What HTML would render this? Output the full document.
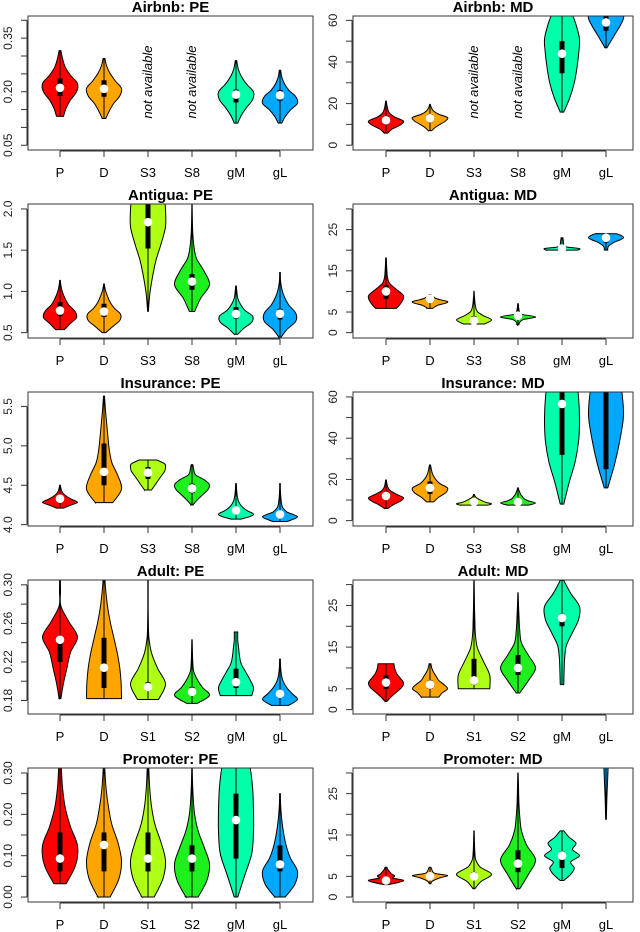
<!DOCTYPE html>
<html><head><meta charset="utf-8"><style>
html,body{margin:0;padding:0;background:#fff;}
svg{display:block;font-family:"Liberation Sans",Arial,sans-serif;}
</style></head><body>
<svg id="chart" width="640" height="932" viewBox="0 0 640 932" xmlns="http://www.w3.org/2000/svg"></svg>
<script>
const panelTitles = ["Airbnb: PE","Airbnb: MD","Antigua: PE","Antigua: MD","Insurance: PE","Insurance: MD","Adult: PE","Adult: MD","Promoter: PE","Promoter: MD"];
const catsA = ["P","D","S3","S8","gM","gL"];
const catsB = ["P","D","S1","S2","gM","gL"];
const panelDomains = [[0.0368,0.412],[-2.3,62.1],[0.435,2.06],[-1.3,31.2],[3.983,5.683],[-2.6,62.4],[0.166,0.305],[-1.05,31.1],[-0.012,0.312],[-1.2,31.2]];
const panelTicks = [
 [0.05,0.10,0.15,0.20,0.25,0.30,0.35,0.40],[0,10,20,30,40,50,60],[0.5,1.0,1.5,2.0],[0,5,10,15,20,25,30],
 [4.0,4.5,5.0,5.5],[0,10,20,30,40,50,60],[0.18,0.20,0.22,0.24,0.26,0.28,0.30],[0,5,10,15,20,25,30],
 [0,0.05,0.10,0.15,0.20,0.25,0.30],[0,5,10,15,20,25,30]];
const panelTickLabels = [
 ["0.05","","","0.20","","","0.35",""],["0","","20","","40","","60"],["0.5","1.0","1.5","2.0"],["0","5","","15","","25",""],
 ["4.0","4.5","5.0","5.5"],["0","","20","","40","","60"],["0.18","","0.22","","0.26","","0.30"],["0","5","","15","","25",""],
 ["0.00","","0.10","","0.20","","0.30"],["0","5","","15","","25",""]];
// stats: [min, q1, median, q3, max]
const violinStats = [
 [[0.131,0.188,0.211,0.237,0.315],[0.125,0.186,0.208,0.232,0.293],null,null,[0.112,0.17,0.192,0.206,0.287],[0.112,0.175,0.19,0.205,0.26]],
 [[5.8,10,12,14,21.2],[7,11,13,15,19.6],null,null,[15.9,34.6,44,50,72],[46.8,55,59,65,75]],
 [[0.537,0.70,0.768,0.87,1.134],[0.5,0.69,0.756,0.85,1.09],[0.756,1.52,1.84,2.1,2.4],[0.756,1.02,1.12,1.21,2.05],[0.48,0.67,0.727,0.81,1.065],[0.44,0.66,0.73,0.79,1.23]],
 [[5.9,8.2,10,11.5,18.1],[5.9,7.5,8.2,8.6,9.2],[2.1,2.5,2.9,4,10],[1.9,3.6,4.1,4.6,7],[20,20.2,20.4,20.7,23],[20,21.8,23,23.3,24]],
 [[4.21,4.29,4.33,4.38,4.5],[4.28,4.5,4.67,5.03,5.63],[4.44,4.58,4.66,4.73,4.82],[4.25,4.4,4.46,4.52,4.76],[4.07,4.15,4.18,4.22,4.52],[4.04,4.1,4.13,4.16,4.52]],
 [[5.9,10,12,14,19.7],[9.1,13,15.9,19,27],[7.5,8.5,9.1,10,12.7],[7.5,8.5,9.1,10.5,15.9],[8,31.9,56.6,70,90],[15.9,25,75,95,110]],
 [[0.182,0.22,0.243,0.247,0.31],[0.182,0.193,0.214,0.245,0.31],[0.181,0.19,0.194,0.199,0.31],[0.177,0.186,0.189,0.194,0.243],[0.185,0.193,0.199,0.213,0.251],[0.175,0.183,0.187,0.191,0.223]],
 [[1.95,5,6.5,8.2,11],[3,5,6,7,11],[5,6,7,12.2,31],[4,8.3,10,13.1,28],[6,20,22,23,31],null],
 [[0.032,0.062,0.093,0.156,0.4],[0,0.062,0.126,0.156,0.35],[0,0.062,0.093,0.156,0.35],[0,0.062,0.093,0.125,0.32],[0,0.093,0.186,0.25,0.42],[0,0.062,0.079,0.125,0.25]],
 [[3,3.6,4,4.5,7.2],[3.2,4.6,5,5.3,7.2],[2,4.6,5,6,16],[2,6,8.1,11.3,30],[4,7,10,11,16],[18.8,40,50,55,60]]
];
// relative half-widths sampled evenly from min (first) to max (last)
const violinProfiles = [
 [[0.2,0.35,0.6,0.95,1.0,0.6,0.3,0.15,0.05],[0.1,0.3,0.55,0.9,1.0,0.65,0.35,0.15,0.05],null,null,[0.1,0.3,0.6,0.95,1.0,0.6,0.3,0.12,0.04],[0.1,0.3,0.6,1.0,0.9,0.5,0.25,0.1,0.04]],
 [[0.1,0.35,0.8,1.0,0.5,0.2,0.1,0.05,0.02],[0.1,0.3,0.6,0.9,1.0,0.5,0.2,0.08,0.02],null,null,[0.1,0.45,0.7,0.85,0.95,1.0,0.8,0.5,0.2],[0.05,0.3,0.55,0.8,1.0,1.0,0.9,0.6,0.3]],
 [[0.25,0.6,0.95,0.85,0.5,0.3,0.15,0.06,0.02],[0.1,0.5,0.9,0.95,0.6,0.35,0.2,0.08,0.02],[0.02,0.1,0.25,0.45,0.75,1.0,1.0,0.9,0.7],[0.15,0.5,1.0,0.7,0.25,0.1,0.04,0.02,0.01],[0.1,0.45,0.9,0.95,0.5,0.25,0.1,0.05,0.02],[0.05,0.4,0.9,0.9,0.5,0.25,0.1,0.03,0.02]],
 [[0.6,0.9,1.0,0.6,0.2,0.08,0.05,0.03,0.02],[0.15,0.3,0.5,0.9,1.0,0.6,0.3,0.15,0.05],[0.6,1.0,0.55,0.2,0.1,0.06,0.04,0.02,0.01],[0.05,0.1,0.3,1.0,0.2,0.08,0.05,0.03,0.02],[0.9,1.0,0.3,0.1,0.1,0.08,0.08,0.06,0.05],[0.1,0.1,0.15,0.3,0.5,0.8,1.0,0.9,0.6]],
 [[0.2,0.6,1.0,0.7,0.4,0.2,0.1,0.05,0.02],[0.5,1.0,0.8,0.45,0.3,0.22,0.15,0.08,0.03],[0.2,0.35,0.5,0.65,0.8,0.95,1.0,0.95,0.5],[0.05,0.3,0.6,0.9,1.0,0.7,0.2,0.1,0.05],[0.3,1.0,0.6,0.3,0.15,0.08,0.05,0.03,0.02],[0.4,1.0,0.4,0.15,0.08,0.05,0.03,0.02,0.02]],
 [[0.1,0.4,0.8,1.0,0.6,0.25,0.1,0.05,0.02],[0.2,0.5,0.9,1.0,0.55,0.3,0.15,0.08,0.03],[0.8,1.0,0.7,0.5,0.35,0.2,0.1,0.05,0.02],[0.6,1.0,0.6,0.35,0.25,0.15,0.1,0.05,0.02],[0.1,0.4,0.75,0.95,1.0,0.95,0.8,0.5,0.2],[0.1,0.5,0.8,1.0,0.9,0.7,0.5,0.3,0.1]],
 [[0.05,0.2,0.4,0.6,1.0,0.5,0.05,0.03,0.02],[1.0,0.98,0.9,0.75,0.55,0.35,0.2,0.1,0.03],[0.6,1.0,0.55,0.2,0.05,0.02,0.01,0.01,0.01],[0.3,1.0,0.6,0.3,0.1,0.05,0.03,0.02,0.01],[0.9,1.0,0.8,0.55,0.3,0.2,0.15,0.1,0.1],[0.5,1.0,0.7,0.4,0.2,0.1,0.05,0.03,0.02]],
 [[0.05,0.3,0.6,0.9,1.0,0.8,0.6,0.5,0.45],[0.5,0.7,1.0,0.8,0.5,0.35,0.2,0.1,0.05],[0.9,0.9,0.55,0.2,0.08,0.05,0.03,0.02,0.01],[0.1,0.6,1.0,0.6,0.2,0.1,0.06,0.03,0.01],[0.1,0.12,0.15,0.25,0.6,0.95,1.0,0.5,0.1],null],
 [[0.35,0.9,1.0,0.6,0.3,0.15,0.08,0.04,0.02],[0.35,0.85,1.0,0.8,0.45,0.25,0.12,0.05,0.02],[0.35,0.85,1.0,0.75,0.4,0.2,0.1,0.05,0.02],[0.35,0.85,1.0,0.7,0.35,0.15,0.07,0.03,0.01],[0.1,0.5,0.9,1.0,1.0,0.95,0.8,0.5,0.2],[0.3,0.85,1.0,0.6,0.35,0.2,0.1,0.04,0.02]],
 [[0.1,0.7,1.0,0.4,0.5,0.3,0.2,0.1,0.05],[0.05,0.1,0.3,0.6,1.0,0.3,0.15,0.1,0.05],[0.05,0.4,1.0,0.35,0.1,0.05,0.03,0.02,0.01],[0.1,0.6,1.0,0.5,0.2,0.1,0.05,0.03,0.01],[0.1,0.5,0.7,0.5,1.0,0.6,0.8,0.4,0.1],[0.02,0.05,0.1,0.15,0.2,0.2,0.15,0.1,0.05]]
];
const seriesColors = ["#FF0000","#FFA500","#AEFF14","#1EF01E","#00FFAA","#00A8FF"];

const NS = "http://www.w3.org/2000/svg";
const svg = document.getElementById("chart");
function mk(tag, attrs, parent){ const e=document.createElementNS(NS,tag); for(const k in attrs) e.setAttribute(k,attrs[k]); (parent||svg).appendChild(e); return e; }
function smooth(pts){ let d=""; for(let i=0;i<pts.length-1;i++){ const p0=pts[Math.max(i-1,0)],p1=pts[i],p2=pts[i+1],p3=pts[Math.min(i+2,pts.length-1)];
  const c1=[p1[0]+(p2[0]-p0[0])/6,p1[1]+(p2[1]-p0[1])/6], c2=[p2[0]-(p3[0]-p1[0])/6,p2[1]-(p3[1]-p1[1])/6];
  d+=` C${c1[0].toFixed(2)},${c1[1].toFixed(2)} ${c2[0].toFixed(2)},${c2[1].toFixed(2)} ${p2[0].toFixed(2)},${p2[1].toFixed(2)}`; } return d; }

const HW = 17.5;
for(let p=0;p<10;p++){
  const col=p%2,row=Math.floor(p/2);
  const x0=col?353:28, x1=col?633:313, y0=16+188*row, y1=y0+134;
  const [lo,hi]=panelDomains[p];
  const yS=v=>y1-(v-lo)/(hi-lo)*(y1-y0);
  const xS=i=>(col?386:60)+44*i;
  const cats=row<3?catsA:catsB;
  const g=mk("g",{});
  
  
  const t=mk("text",{x:(x0+x1)/2,y:y0-4,"text-anchor":"middle","font-size":"15","font-weight":"bold",fill:"#000"},g);
  t.textContent=panelTitles[p];
  
  
  const cid="clip"+p;
  const cp=mk("clipPath",{id:cid},g); mk("rect",{x:x0,y:y0,width:x1-x0,height:y1-y0},cp);
  const vg=mk("g",{"clip-path":`url(#${cid})`},g);
  for(let i=0;i<6;i++){
    const st=violinStats[p][i], pr=violinProfiles[p][i], cx=xS(i);
    if(!st) continue;
    const n=pr.length, R=[], L=[];
    for(let k=0;k<n;k++){ const v=st[0]+(st[4]-st[0])*k/(n-1); R.push([cx+pr[k]*HW,yS(v)]); }
    for(let k=n-1;k>=0;k--) L.push([cx-R[k][0]+cx,R[k][1]]);
    const d=`M${L[L.length-1][0]},${L[L.length-1][1]} L${R[0][0]},${R[0][1]}`+smooth(R)+` L${L[0][0]},${L[0][1]}`+smooth(L)+" Z";
    const vio=mk("path",{d:d,fill:seriesColors[i],stroke:"#000","stroke-width":"1"},vg);
    
    
    const wl=mk("line",{x1:cx,x2:cx,y1:yS(st[0]),y2:yS(st[4]),stroke:"#000","stroke-width":"1"},vg);
    
    
    const bx=mk("rect",{x:cx-2.5,y:yS(st[3]),width:5,height:Math.max(yS(st[1])-yS(st[3]),0.5),fill:"#000"},vg);
    
    
    const md=mk("circle",{cx:cx,cy:yS(st[2]),r:4.3,fill:"#fff"},vg);
    
    
  }
  if(p===0||p===1){
    [2,3].forEach(i=>{ const na=mk("text",{x:0,y:0,transform:`translate(${xS(i)+4},82) rotate(-90)`,"text-anchor":"middle","font-size":"13","font-style":"italic",fill:"#000"},g);
      na.textContent="not available";
      
       });
  }
  const frame=mk("rect",{x:x0,y:y0,width:x1-x0,height:y1-y0,fill:"none",stroke:"#333","stroke-width":"1"},g);
  
  
  const tv=panelTicks[p];
  const ya=mk("line",{x1:x0-1,x2:x0-1,y1:yS(tv[0]),y2:yS(tv[tv.length-1]),stroke:"#333"},g);
  
  
  tv.forEach((v,k)=>{ const yy=yS(v);
    mk("line",{x1:x0-7,x2:x0-1,y1:yy,y2:yy,stroke:"#333"},g);
    const lab=panelTickLabels[p][k];
    if(lab){ const tl=mk("text",{x:0,y:0,transform:`translate(${x0-16},${yy}) rotate(-90)`,"text-anchor":"middle","font-size":"12",fill:"#222"},g);
      tl.textContent=lab;
      
       }
  });
  const xa=mk("line",{x1:xS(0),x2:xS(5),y1:y1+1,y2:y1+1,stroke:"#333"},g);
  
  
  cats.forEach((c,i)=>{ mk("line",{x1:xS(i),x2:xS(i),y1:y1+1,y2:y1+7,stroke:"#333"},g);
    const xl=mk("text",{x:xS(i),y:y1+27,"text-anchor":"middle","font-size":"13",fill:"#000"},g);
    xl.textContent=c;
    
     });
}
</script>
</body></html>
